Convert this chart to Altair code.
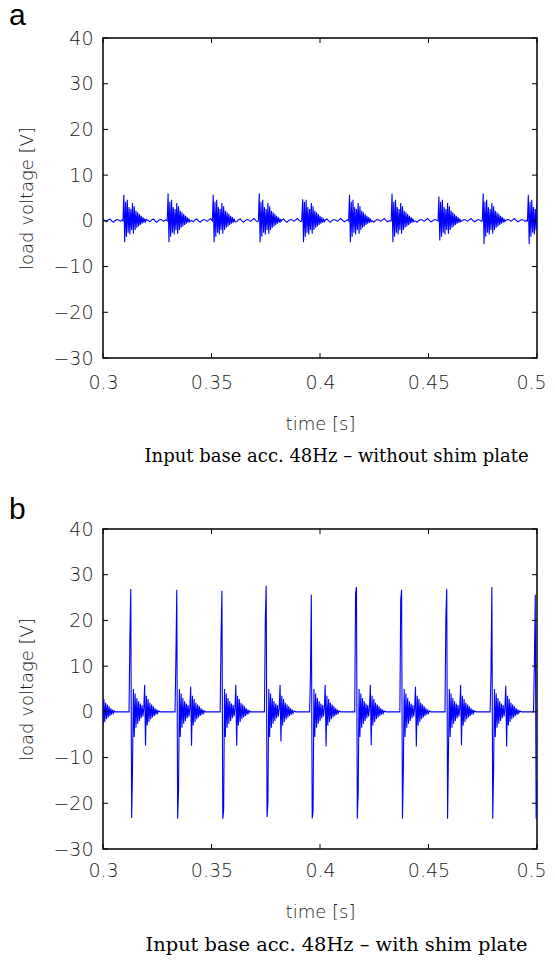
import altair as alt
import pandas as pd

# ---------------- axis ranges & ticks ----------------
T_START, T_END, STEP = 0.3, 0.5, 0.0004
x_ticks = [0.3, 0.35, 0.4, 0.45, 0.5]
y_ticks = [-30, -20, -10, 0, 10, 20, 30, 40]

# ---------------- panel a : without shim plate ----------------
a_onsets = [0.3092, 0.3298, 0.3505, 0.3716, 0.3917, 0.4132, 0.4330, 0.4545, 0.4748, 0.4957]
a_peaks = [5.7, 6.0, 5.7, 6.0, 4.7, 5.7, 6.0, 5.3, 6.0, 5.7]
a_troughs = [-4.7, -4.7, -4.7, -4.7, -4.7, -4.7, -4.7, -4.3, -5.1, -5.1]
a_ring = [4.2, -3.5, 4.6, -2.6, 3.0, -3.0, 2.6, -2.0, 3.9, -2.8, 3.2, -2.0, 2.2, -1.5,
          1.9, -1.2, 1.5, -0.9, 1.1, -0.6, 0.8, -0.4, 0.5, -0.2]
a_baseline = [0.3, 0.1, -0.2, 0.2, 0.4, 0.0, -0.3, 0.1, 0.3, 0.2, -0.1, 0.2, 0.5,
              0.1, -0.2, 0.0, 0.3, 0.2, -0.1, 0.1, 0.4, 0.2, -0.2, 0.1, 0.3]

# ---------------- panel b : with shim plate ----------------
b_onsets = [0.2916, 0.3122, 0.3332, 0.3538, 0.3744, 0.3953, 0.4159, 0.4368, 0.4575, 0.4784, 0.4984]
b_lead = [16.0, 16.5, 12.0, 16.1, 20.5, 8.0, 26.0, 24.5, 20.5, 8.6, 11.0]
b_peaks = [27.0, 26.9, 26.7, 26.5, 27.6, 25.6, 27.3, 26.7, 26.9, 27.3, 25.6]
b_troughs = [-23.3, -23.2, -23.4, -23.4, -23.0, -23.3, -23.4, -23.4, -23.4, -23.4, -23.4]
b_dips = [-15.0, -12.7, -17.4, -21.5, -20.0, -21.8, -17.8, -13.0, -8.9, -12.7, -15.0]
b_ring1 = [5.0, -5.5, 4.0, -3.5, 3.0, -2.6, 2.3, -2.0, 1.8, -1.4, 1.5, -1.0, 0.8]
b_sec_peaks = [5.8, 5.9, 5.5, 5.9, 5.9, 5.9, 5.9, 5.5, 5.9, 5.7, 5.8]
b_sec_troughs = [-7.4, -7.4, -7.4, -7.4, -6.5, -7.6, -7.3, -7.6, -7.3, -7.6, -7.4]
b_ring2 = [3.5, -3.0, 2.8, -2.2, 2.0, -1.6, 1.6, -1.2, 1.2, -0.9, 0.8, -0.6, 0.5, -0.3, 0.2]
b_baseline = [0.0]


def build(onsets, templates, baseline):
    n = int(round((T_END - T_START) / STEP))
    starts = [int(round((o - T_START) / STEP)) for o in onsets]
    rows = []
    for i in range(n + 1):
        val = None
        for s, tpl in zip(starts, templates):
            k = i - s
            if 0 <= k < len(tpl):
                val = tpl[k]
                break
        if val is None:
            if i % 2:
                continue
            val = baseline[(i // 2) % len(baseline)]
        rows.append({"t": T_START + i * STEP, "v": val})
    return pd.DataFrame(rows)


a_templates = [[0.0, p, q] + a_ring for p, q in zip(a_peaks, a_troughs)]
b_templates = [[0.0, l, p, q, d] + b_ring1 + [sp, sq] + b_ring2
               for l, p, q, d, sp, sq in zip(b_lead, b_peaks, b_troughs, b_dips,
                                             b_sec_peaks, b_sec_troughs)]
df_a = build(a_onsets, a_templates, a_baseline)
df_b = build(b_onsets, b_templates, b_baseline)

W, H, TICK = 434, 320, 5
LABEL_FONT = "DejaVu Sans"


def panel(df, label, label_offset, caption, cap_size, cap_offset, lab_pad):
    xs = alt.Scale(domain=[T_START, T_END], nice=False, zero=False)
    ys = alt.Scale(domain=[-30, 40], nice=False, zero=False)
    x = alt.X("t:Q", scale=xs, title="time [s]",
              axis=alt.Axis(values=x_ticks, format=".2~f", labelPadding=lab_pad,
                            titlePadding=23, labelFlush=False,
                            labelOffset={"condition": {"test": "datum.value > 0.49", "value": -6},
                                         "value": 0}))
    y = alt.Y("v:Q", scale=ys, title="load voltage [V]",
              axis=alt.Axis(values=y_ticks, format="d", labelPadding=10,
                            titlePadding=16.5))
    line = alt.Chart(df).mark_line(color="#0000ff", strokeWidth=1.1, clip=True).encode(x=x, y=y)
    yt = pd.DataFrame({"v": y_ticks})
    xt = pd.DataFrame({"t": x_ticks})
    yy = alt.Y("v:Q", scale=ys, title="load voltage [V]")
    xx = alt.X("t:Q", scale=xs, title="time [s]")
    left = alt.Chart(yt).mark_rule(color="black", strokeWidth=1).encode(
        y=yy, x=alt.value(0), x2=alt.value(TICK))
    right = alt.Chart(yt).mark_rule(color="black", strokeWidth=1).encode(
        y=yy, x=alt.value(W - TICK), x2=alt.value(W))
    bottom = alt.Chart(xt).mark_rule(color="black", strokeWidth=1).encode(
        x=xx, y=alt.value(H - TICK), y2=alt.value(H))
    top = alt.Chart(xt).mark_rule(color="black", strokeWidth=1).encode(
        x=xx, y=alt.value(0), y2=alt.value(TICK))
    layered = alt.layer(line, left, right, bottom, top).properties(
        width=W, height=H,
        title=alt.TitleParams(label, anchor="start", frame="bounds", orient="top",
                              font="Liberation Sans", fontSize=30, fontWeight="normal",
                              color="black", dx=-9.5, offset=label_offset))
    return alt.vconcat(layered, title=alt.TitleParams(
        caption, orient="bottom", anchor="middle", font="DejaVu Serif", fontSize=cap_size,
        fontWeight="normal", color="black", offset=cap_offset, dx=59))


chart = alt.vconcat(
    panel(df_a, "a", -2, "Input base acc. 48Hz \u2013 without shim plate", 18, 14, 15),
    panel(df_b, "b", -5, "Input base acc. 48Hz \u2013 with shim plate", 19.4, 14, 12),
    spacing=28,
).properties(
    padding={"left": 0, "top": -8, "right": 0, "bottom": 0}
).configure_view(
    stroke="black", strokeWidth=1.5
).configure_axis(
    grid=False, domain=False, ticks=False, tickSize=0,
    labelFont=LABEL_FONT, labelFontSize=19, labelColor="#1a1a1a", labelFontWeight=300,
    titleFont=LABEL_FONT, titleFontSize=18, titleColor="#1a1a1a", titleFontWeight=300,
).configure_concat(spacing=28)

chart.save("out.html", embed_options={"renderer": "svg", "actions": False})
